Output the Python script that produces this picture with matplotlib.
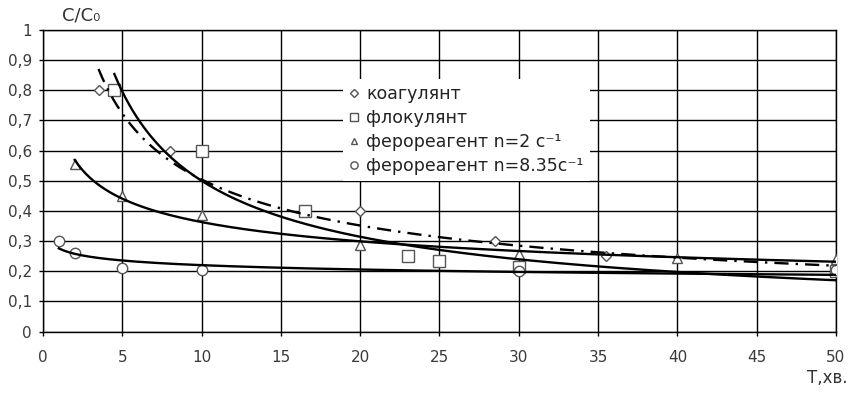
import numpy as np
import matplotlib
matplotlib.use("Agg")
import matplotlib.pyplot as plt
from matplotlib.ticker import FixedLocator

plt.rcParams['font.family'] = ['DejaVu Sans']

# ---- data ----
koag_x = [3.5, 8, 20, 28.5, 35.5, 50]
koag_y = [0.80, 0.60, 0.40, 0.30, 0.25, 0.20]

floc_x = [4.5, 10, 16.5, 23, 25, 30, 50]
floc_y = [0.80, 0.60, 0.40, 0.252, 0.233, 0.213, 0.20]

fer2_x = [2, 5, 10, 20, 30, 40, 50]
fer2_y = [0.555, 0.45, 0.385, 0.286, 0.256, 0.245, 0.24]

fer8_x = [1, 2, 5, 10, 30, 50]
fer8_y = [0.30, 0.262, 0.209, 0.205, 0.20, 0.203]

labels = ['коагулянт', 'флокулянт', 'ферореагент n=2 с⁻¹', 'ферореагент n=8.35с⁻¹']
x_ticks = [0, 5, 10, 15, 20, 25, 30, 35, 40, 45, 50]
y_ticks = [0, 0.1, 0.2, 0.3, 0.4, 0.5, 0.6, 0.7, 0.8, 0.9, 1.0]
y_tick_labels = ['0', '0,1', '0,2', '0,3', '0,4', '0,5', '0,6', '0,7', '0,8', '0,9', '1']


def power_fit(x, y):
    x = np.asarray(x, float)
    y = np.asarray(y, float)
    b, lna = np.polyfit(np.log(x), np.log(y), 1)
    xs = np.linspace(x.min(), x.max(), 200)
    return xs, np.exp(lna) * xs ** b


fig = plt.figure(figsize=(8.53, 3.93), dpi=100)
ax = fig.add_axes([43 / 853, 1 - 331.5 / 393, (836 - 43) / 853, (331.5 - 30) / 393])

ax.set_xlim(0, 50)
ax.set_ylim(0, 1)
ax.xaxis.set_major_locator(FixedLocator(x_ticks))
ax.yaxis.set_major_locator(FixedLocator(y_ticks))
ax.set_yticklabels(y_tick_labels)
ax.grid(True, color='black', linewidth=1.0)
ax.set_axisbelow(True)
for s in ax.spines.values():
    s.set_color('black')
    s.set_linewidth(1.0)
ax.tick_params(axis='both', direction='out', length=3, width=1.0, color='black',
               labelsize=11, labelcolor='#3a3a3a')
ax.tick_params(axis='x', pad=10)
ax.tick_params(axis='y', pad=5)

mkw = dict(linestyle='none', markerfacecolor='white', markeredgecolor='#555555',
           markeredgewidth=1.0, zorder=3)

# trend lines
xs, ys = power_fit(koag_x, koag_y)
ax.plot(xs, ys, color='black', lw=1.7, linestyle=(0, (6, 3, 1, 3)), zorder=4)
xs, ys = power_fit(floc_x, floc_y)
ax.plot(xs, ys, color='black', lw=1.7, zorder=4)
xs, ys = power_fit(fer2_x, fer2_y)
ax.plot(xs, ys, color='black', lw=1.7, zorder=4)
xs, ys = power_fit(fer8_x, fer8_y)
ax.plot(xs, ys, color='black', lw=1.7, zorder=4)

h1, = ax.plot(koag_x, koag_y, marker='D', markersize=5.5, label=labels[0], **mkw)
h2, = ax.plot(floc_x, floc_y, marker='s', markersize=8, label=labels[1], **mkw)
h3, = ax.plot(fer2_x, fer2_y, marker='^', markersize=7, label=labels[2], **mkw)
h4, = ax.plot(fer8_x, fer8_y, marker='o', markersize=7.5, label=labels[3], **mkw)

leg = ax.legend(handles=[h1, h2, h3, h4], loc='upper left',
                bbox_to_anchor=(343 / 853, 1 - 79 / 393), bbox_transform=fig.transFigure,
                frameon=True, fancybox=False, edgecolor='none', facecolor='white',
                framealpha=1.0, fontsize=12.5, markerscale=0.7, handlelength=0.6,
                handletextpad=0.4, labelspacing=0.35, borderpad=0.35, borderaxespad=0)
leg.set_zorder(5)
for t in leg.get_texts():
    t.set_color('#222222')

fig.text(62 / 853, 1 - 15 / 393, 'C/C₀', fontsize=13, color='#333333',
         ha='left', va='center')
fig.text(848 / 853, 1 - 378 / 393, 'Т,хв.', fontsize=12, color='#333333',
         ha='right', va='center')

fig.savefig('out.png', dpi=100)
